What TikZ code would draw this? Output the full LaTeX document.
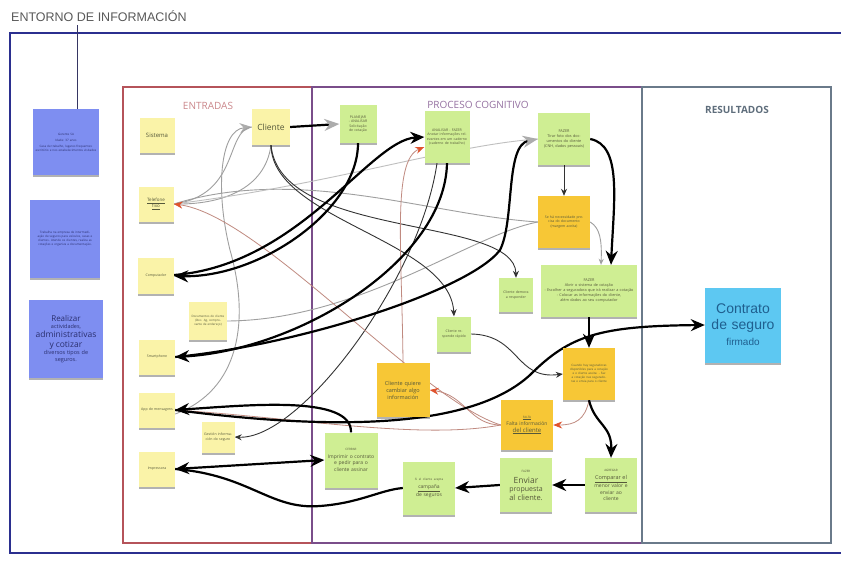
\documentclass[tikz,border=0pt]{standalone}
\usepackage{fontspec}
\setmainfont{Open Sans}
\newfontfamily\arialf{Liberation Sans}
\usetikzlibrary{arrows.meta,shadows}
\newcommand\fz[2]{\fontsize{#1pt}{#2pt}\selectfont}
\definecolor{ynote}{HTML}{FAF3A8}
\definecolor{gnote}{HTML}{CFEE93}
\definecolor{onote}{HTML}{F7C736}
\definecolor{bnote}{HTML}{7E8EF1}
\definecolor{cnote}{HTML}{5DC8F2}
\definecolor{ctextc}{HTML}{1F5F8F}
\definecolor{frameblue}{HTML}{2B2F8F}
\definecolor{framered}{HTML}{B5535A}
\definecolor{framepurp}{HTML}{7A4E8A}
\definecolor{framegray}{HTML}{6A7A8A}
\definecolor{redhead}{HTML}{DF532E}
\definecolor{redline}{HTML}{C08A80}
\definecolor{navy}{HTML}{2A2F6E}
\definecolor{ntext}{HTML}{55583A}
\pgfdeclarelayer{bg}
\pgfsetlayers{bg,main}
\begin{document}
\begin{tikzpicture}[x=1pt,y=-1pt,
  note/.style={align=center,inner sep=2pt,text=ntext,
    drop shadow={shadow xshift=0pt,shadow yshift=-2pt,opacity=0.3,fill=black}},
  sz/.style n args={3}{minimum width=#1pt,minimum height=#2pt,text width=#3pt},
  yn/.style={note,fill=ynote},
  gn/.style={note,fill=gnote},
  on/.style={note,fill=onote},
  bn/.style={note,fill=bnote,text=navy},
  tb/.style={line width=2.2pt,black,-{Stealth[length=14pt,width=12pt]}},
  tbn/.style={line width=2.2pt,black},
  tbg/.style={line width=2.2pt,black,-{Stealth[length=15pt,width=12pt,color=gray!65]}},
  tk/.style={line width=0.9pt,black!80,-{Stealth[length=7pt,width=6pt]}},
  tg/.style={line width=0.9pt,gray!75},
  tga/.style={line width=0.9pt,gray!75,-{Stealth[length=12pt,width=10pt,color=gray!65]}},
  tr/.style={line width=0.8pt,redline},
  tra/.style={line width=0.8pt,redline,-{Stealth[length=9pt,width=7pt,color=redhead]}}
]
\useasboundingbox (0,0) rectangle (841,560);

% title
\node[anchor=west,text=gray!70!black,inner sep=0pt,font=\arialf\fz{12.5}{14}] (title) at (11,16) {ENTORNO DE INFORMACIÓN};
\coordinate (tl) at (77,25);

% blue notes
\node[bn,sz={66}{66}{62},font=\fz{3}{4}] (b1) at (66,142) {Gerente SA\\[2pt]Idade: 37 anos\\[2pt]Casa de trabalho, lugares frequentes: escritório e nos estabelecimentos visitados};
\node[bn,sz={70}{78}{64},font=\fz{3}{4}] (b2) at (65,239) {Trabalha na empresa de intermediação de seguros para veículos, casas e clientes. Atende os clientes, realiza as cotações e organiza a documentação.};
\node[bn,sz={73}{78}{70},font=\fz{5.5}{7}] (b3) at (66,339) {\fz{8}{9}Realizar\\\fz{5.5}{7}actividades,\\\fz{8.5}{9.5}administrativas\\\fz{8.5}{9.5}y cotizar\\\fz{5.5}{7}diversos tipos de\\\fz{5.5}{7}seguros.};

% headers
\node[text=framered!70!white,font=\fz{10}{12}] (hent) at (208,106) {ENTRADAS};
\node[text=framepurp!80!white,font=\fz{10}{12}] (hpro) at (478,105) {PROCESO COGNITIVO};
\node[text=framegray!90!black,font=\fz{10}{12}\bfseries] (hres) at (737,110) {RESULTADOS};

% entradas notes
\node[yn,sz={34}{35}{31},font=\fz{6}{7}] (sis) at (157,135) {Sistema};
\node[yn,sz={36}{36}{34},font=\fz{8.5}{10}] (cli) at (271,127) {Cliente};
\node[yn,sz={34}{35}{31},font=\fz{4.5}{6}] (tel) at (156,204) {\underline{Telefone}\\\underline{fixo}};
\node[yn,sz={34}{36}{32},font=\fz{3.5}{4.5}] (comp) at (156,276) {Computador};
\node[yn,sz={37}{38}{34},font=\fz{3}{4}] (doc) at (208,321) {Documentos do cliente (Doc. Ag, comprovante de endereço)};
\node[yn,sz={34}{35}{32},font=\fz{3.5}{4.5}] (smart) at (157,357) {Smartphone};
\node[yn,sz={34}{35}{32},font=\fz{3.5}{4.5}] (app) at (157,410) {App de mensagens};
\node[yn,sz={31}{31}{29},font=\fz{3.5}{4.5}] (gest) at (218,437) {Gestión información do seguro};
\node[yn,sz={34}{35}{32},font=\fz{3.5}{4.5}] (imp) at (157,469) {Impressora};

% proceso notes
\node[gn,sz={36}{38}{33},font=\fz{3.5}{4.5}] (plan) at (358,124) {PLANEJAR - ANALISAR\\Solicitação de cotação};
\node[gn,sz={44}{52}{41},font=\fz{3.5}{4.5}] (anal) at (447,137) {ANALISAR - FAZER\\Anotar informações relevantes em um caderno (caderno de trabalho)};
\node[gn,sz={52}{52}{48},font=\fz{3.8}{5}] (fazer1) at (564,139) {FAZER\\Tirar foto dos documentos do cliente (CNH, dados pessoais)};
\node[on,sz={52}{52}{46},font=\fz{3.5}{4.5}] (gold1) at (564,222) {Se há necessidade precisa do documento (margem aceita)};
\node[gn,sz={32}{34}{30},font=\fz{3.5}{4.5}] (demora) at (516,295) {Cliente demora a responder};
\node[gn,sz={96}{52}{90},font=\fz{3.8}{5}] (fazer2) at (589,291) {FAZER\\Abrir o sistema de cotação\\- Escolher a seguradora que irá realizar a cotação\\- Colocar as informações do cliente, além dados ao seu computador};
\node[gn,sz={32}{35}{30},font=\fz{3.5}{4.5}] (rapido) at (454,334) {Cliente responde rápido};
\node[on,sz={53}{54}{49},font=\fz{5.5}{7}] (quiere) at (403,390) {Cliente quiere\\cambiar algo\\información};
\node[on,sz={52}{52}{46},font=\fz{3}{4}] (gold2) at (589,374) {Cuando hay seguradoras disponibles para a cotação e o cliente aceita: - Faz a cotação nas seguradoras e envia para o cliente};
\node[on,sz={52}{50}{48},font=\fz{5}{6.5}] (falta) at (527,425) {\fz{3}{4}\underline{FALTA}\\[1pt]\fz{5}{6.5}Falta información\\\fz{6}{7.5}\underline{del cliente}};
\node[gn,sz={53}{55}{49},font=\fz{5}{6.5}] (cerrar) at (351,460) {\fz{3}{4}CERRAR\\[1pt]\fz{5}{6.5}Imprimir o contrato e pedir para o cliente assinar};
\node[gn,sz={52}{53}{48},font=\fz{5}{6.5}] (camp) at (429,488) {\fz{3}{4}Si el cliente acepta\\[1pt]\fz{5}{6.5}\underline{campaña}\\de seguros};
\node[gn,sz={52}{54}{48},font=\fz{7}{8.5}] (enviar) at (526,485) {\fz{3}{4}FAZER\\[1pt]\fz{8.5}{10}Enviar\\\fz{7}{8.5}propuesta\\\fz{7.5}{9}al cliente.};
\node[gn,sz={52}{54}{48},font=\fz{5}{6.5}] (agreg) at (611,485) {\fz{3}{4}AGREGAR\\[1pt]\fz{5.5}{7}\underline{Comparar el}\\\fz{5}{6.5}menor valor e\\enviar ao\\cliente};

% resultado
\node[note,fill=cnote,text=ctextc,sz={74}{75}{72},font=\arialf\fz{14}{16}] (contrato) at (743,325) {Contrato\\de seguro\\\fz{10}{13}firmado};

\begin{pgfonlayer}{bg}
\fill[white] (0,0) rectangle (841,560);
% frames
\draw[frameblue,line width=1.6pt] (850,33) -- (10,33) -- (10,553) -- (850,553);
\draw[framered,line width=1.2pt] (123,87) rectangle (312,543);
\draw[framepurp,line width=1.2pt] (312,87) rectangle (642,543);
\draw[framegray,line width=1.2pt] (642,87) rectangle (831,543);
\draw[gray!70!blue!60!black,line width=1pt] (tl) -- (tl |- b1.north);

% thin gray connectors
\draw[tga] ([yshift=-4pt]app.east) .. controls (240,390) and (250,320) .. (230,250) .. controls (215,190) and (220,130) .. (cli.west);
\draw[tg] (tel.east) .. controls (240,195) and (225,130) .. (cli.west);
\draw[tg] (cli.south) .. controls (265,190) and (220,205) .. (tel.east);
\draw[tg] (doc.east) .. controls (360,320) and (470,235) .. (gold1.west);
\draw[tg] (gold1.west) .. controls (430,215) and (300,165) .. (tel.east);
\draw[tg,gray!50] (tel.east) .. controls (330,185) and (450,145) .. (fazer1.west);
\draw[tg,-{Stealth[length=6pt,width=5pt]}] (gold1.east) .. controls (600,228) and (602,240) .. ([xshift=12pt]fazer2.north);

% thin dark connectors
\draw[tk] (cli.south) .. controls (272,220) and (450,240) .. (rapido.north);
\draw[tk] (cli.south) .. controls (280,240) and (515,215) .. (demora.north);
\draw[tk] (fazer1.south) -- (gold1.north);
\draw[tk] (rapido.east) .. controls (520,335) and (515,380) .. (gold2.west);
\draw[tk] ([xshift=-10pt]anal.south) .. controls (420,280) and (300,440) .. (gest.east);

% red connectors
\draw[tra] (falta.west) .. controls (420,400) and (260,215) .. (tel.east);
\draw[tra] (quiere.north) .. controls (402,250) and (392,160) .. ([yshift=-10pt]anal.west);
\draw[tra] (falta.west) .. controls (470,425) and (465,395) .. (quiere.east);
\draw[tr] (app.east) .. controls (300,418) and (420,440) .. (falta.west);
\draw[tra] (gold2.south) .. controls (585,420) and (575,425) .. (falta.east);

% thick connectors
\draw[tbg] (cli.east) -- (plan.west);
\draw[tb] (plan.south) .. controls (358,210) and (260,278) .. (comp.east);
\draw[tb] ([yshift=1pt]comp.east) .. controls (300,265) and (370,140) .. (anal.west);
\draw[tb] (fazer1.east) .. controls (622,145) and (614,200) .. ([xshift=22pt]fazer2.north);
\draw[tbg] (smart.east) .. controls (300,345) and (470,290) .. (500,250) .. controls (515,220) and (505,145) .. (fazer1.west);
\draw[tb] (anal.south) .. controls (445,260) and (300,350) .. (smart.east);
\draw[tb] (cerrar.north) .. controls (352,395) and (250,405) .. (app.east);
\draw[tb] (app.east) .. controls (330,430) and (470,430) .. (530,375) .. controls (570,335) and (600,326) .. (contrato.west);
\draw[tb] (fazer2.south) -- (gold2.north);
\draw[line width=2.2pt,black,{Stealth[length=14pt,width=12pt]}-{Stealth[length=14pt,width=12pt]}] (imp.east) -- (cerrar.west);
\draw[tbn] (imp.east) .. controls (250,475) and (270,510) .. (320,506) .. controls (360,503) and (380,490) .. (camp.west);
\draw[tb] (enviar.west) -- (camp.east);
\draw[tb] (agreg.west) -- (enviar.east);
\draw[tb] (gold2.south) .. controls (595,425) and (612,425) .. (agreg.north);
\end{pgfonlayer}
\end{tikzpicture}
\end{document}
